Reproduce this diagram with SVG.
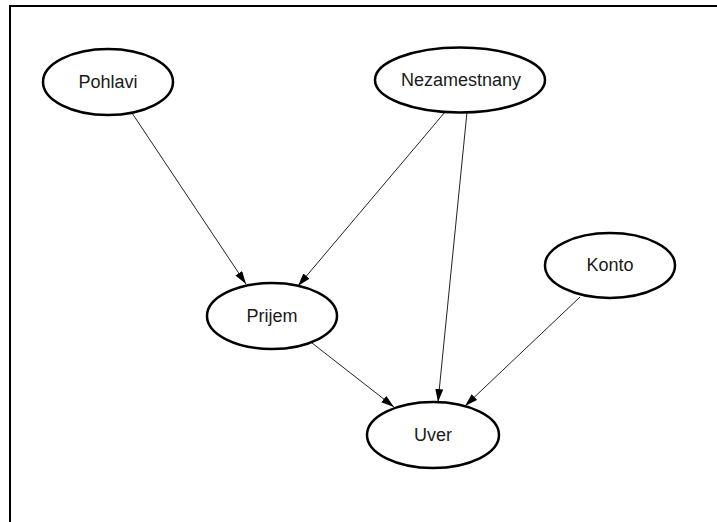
<svg xmlns="http://www.w3.org/2000/svg" width="717" height="522" viewBox="0 0 717 522">
  <defs>
    <marker id="arrow" markerUnits="userSpaceOnUse" markerWidth="14" markerHeight="10" refX="13" refY="4" orient="auto">
      <path d="M0,0 L13,4 L0,8 z" fill="#000"/>
    </marker>
    <style>
      .node ellipse { fill: #fff; stroke: #000; stroke-width: 2.5; }
      .node text { font-family: "Liberation Sans", Arial, sans-serif; font-size: 18px; fill: #1a1a1a; text-anchor: middle; }
      .edges line { stroke: #222; stroke-width: 1; marker-end: url(#arrow); }
    </style>
  </defs>
  <rect width="717" height="522" fill="#fff"/>
  <!-- frame: only the top and left edges fall inside the canvas -->
  <path d="M10,530 L10,6 L720,6" fill="none" stroke="#000" stroke-width="2"/>

  <g class="edges">
    <line x1="132" y1="113" x2="246" y2="284"/>
    <line x1="445" y1="112" x2="298" y2="286"/>
    <line x1="467" y1="112" x2="438" y2="402"/>
    <line x1="312" y1="343" x2="394" y2="407"/>
    <line x1="580" y1="297" x2="465" y2="406"/>
  </g>

  <g id="pohlavi" class="node">
    <ellipse cx="108" cy="82" rx="65" ry="33"/>
    <text x="108" y="88">Pohlavi</text>
  </g>
  <g id="nezamestnany" class="node">
    <ellipse cx="460" cy="80" rx="85" ry="32.5"/>
    <text x="461" y="86">Nezamestnany</text>
  </g>
  <g id="konto" class="node">
    <ellipse cx="610" cy="265.5" rx="65" ry="32.5"/>
    <text x="610" y="271">Konto</text>
  </g>
  <g id="prijem" class="node">
    <ellipse cx="272" cy="316" rx="65" ry="33"/>
    <text x="272" y="322">Prijem</text>
  </g>
  <g id="uver" class="node">
    <ellipse cx="433" cy="435" rx="66" ry="33"/>
    <text x="433" y="441">Uver</text>
  </g>
</svg>
